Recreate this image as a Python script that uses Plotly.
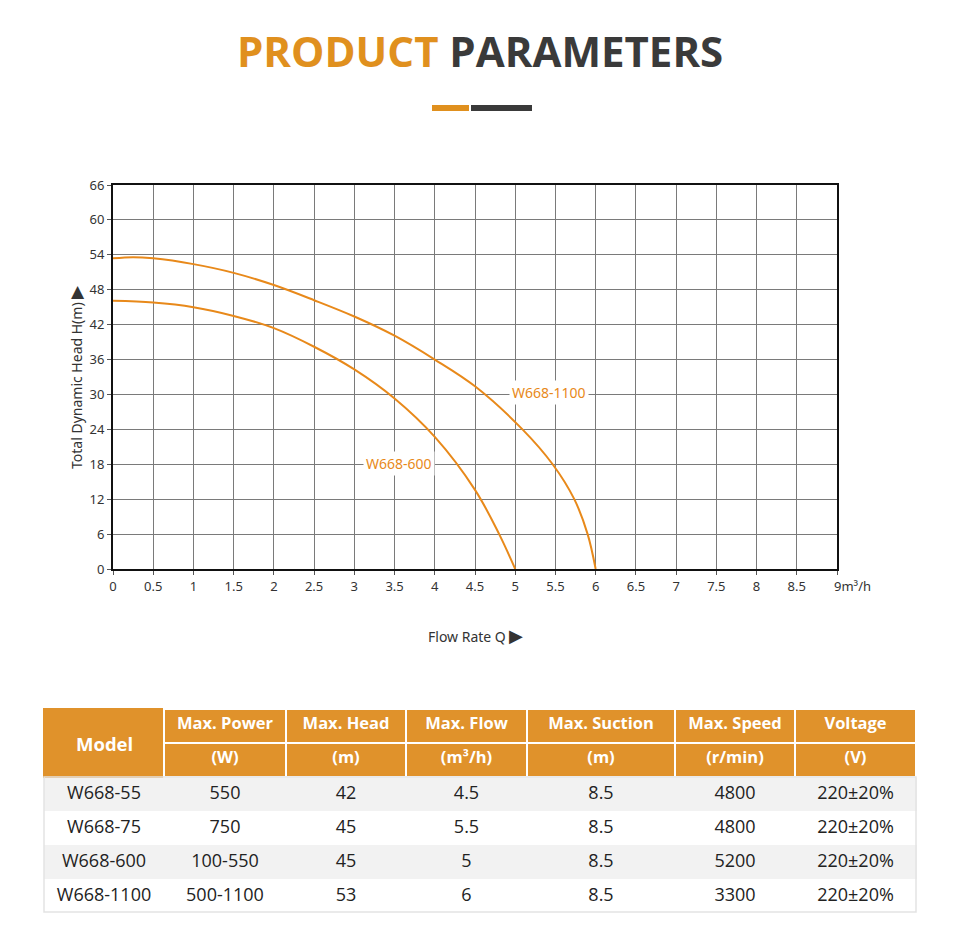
import plotly.graph_objects as go

# pump curves: flow (m3/h) vs total dynamic head (m)
q_1100 = [0, 0.25, 0.5, 1, 1.5, 2, 2.5, 3, 3.5, 4, 4.5, 5.09, 5.465, 5.734, 5.9, 6]
h_1100 = [53.4, 53.6, 53.4, 52.4, 50.9, 48.8, 46.2, 43.4, 40.1, 36.0, 31.4, 24, 18, 12, 6, 0]

q_600 = [0, 0.5, 1, 1.5, 2, 2.5, 3, 3.5, 4, 4.5, 4.8, 5]
h_600 = [46.1, 45.8, 45.0, 43.5, 41.4, 38.2, 34.3, 29.3, 22.7, 13.6, 6, 0]

x_ticks = [0, 0.5, 1, 1.5, 2, 2.5, 3, 3.5, 4, 4.5, 5, 5.5, 6, 6.5, 7, 7.5, 8, 8.5]
x_ticktext = ["0", "0.5", "1", "1.5", "2", "2.5", "3", "3.5", "4", "4.5", "5", "5.5",
              "6", "6.5", "7", "7.5", "8", "8.5"]
x_last_tick = 9
x_last_label = "9m³/h"
y_ticks = [0, 6, 12, 18, 24, 30, 36, 42, 48, 54, 60, 66]

# parameter table
models = ["W668-55", "W668-75", "W668-600", "W668-1100"]
max_power = ["550", "750", "100-550", "500-1100"]
max_head = ["42", "45", "45", "53"]
max_flow = ["4.5", "5.5", "5", "6"]
max_suction = ["8.5", "8.5", "8.5", "8.5"]
max_speed = ["4800", "4800", "5200", "3300"]
voltage = ["220±20%", "220±20%", "220±20%", "220±20%"]

head_top = ["", "Max. Power", "Max. Head", "Max. Flow", "Max. Suction", "Max. Speed", "Voltage"]
head_unit = ["", "(W)", "(m)", "(m³/h)", "(m)", "(r/min)", "(V)"]

ORANGE = "#E8891A"
HEAD_FILL = "#E0922B"
DARK = "#3A3A3A"

W, H = 960, 948
OFF = 8  # page offset seen in the screenshot
px_x = lambda p: (p - OFF) / W
px_y = lambda p: 1 - (p - OFF) / H

fig = go.Figure()

fig.add_trace(go.Scatter(x=q_1100, y=h_1100, mode="lines", line=dict(color=ORANGE, width=2, shape="spline", smoothing=1),
                         name="W668-1100", showlegend=False))
fig.add_trace(go.Scatter(x=q_600, y=h_600, mode="lines", line=dict(color=ORANGE, width=2, shape="spline", smoothing=1),
                         name="W668-600", showlegend=False))

row_fill = ["#F2F2F2", "#FFFFFF", "#F2F2F2", "#FFFFFF"]
head_line = [[HEAD_FILL, HEAD_FILL]] + [["#FFFFFF", "#FFFFFF"]] * 6

fig.add_trace(go.Table(
    domain=dict(x=[px_x(44), px_x(916)], y=[px_y(913), px_y(709)]),
    columnwidth=[120, 122, 120, 121, 148, 120, 121],
    header=dict(
        values=[[a, b] for a, b in zip(head_top, head_unit)],
        fill_color=HEAD_FILL,
        line=dict(color=head_line, width=1.5),
        font=dict(family="Open Sans", size=16.5, color="white", weight="bold"),
        align="center",
        height=34,
    ),
    cells=dict(
        values=[models, max_power, max_head, max_flow, max_suction, max_speed, voltage],
        fill_color=[row_fill] * 7,
        line=dict(color=[row_fill] * 7, width=1),
        font=dict(family="Open Sans", size=18, color="#222222"),
        align="center",
        height=34,
    ),
))

fig.update_layout(
    width=W, height=H,
    margin=dict(l=0, r=0, t=0, b=0, autoexpand=False),
    paper_bgcolor="white",
    plot_bgcolor="white",
    font=dict(family="Noto Sans", color="#333333", size=13),
    xaxis=dict(
        domain=[px_x(113), px_x(837)], range=[0, 9], automargin=False,
        tickvals=x_ticks + [x_last_tick], ticktext=x_ticktext + [""], tickangle=0,
        showgrid=True, gridcolor="#7A7A7A", gridwidth=1,
        showline=True, linecolor="#111111", linewidth=2, mirror=True,
        ticks="outside", ticklen=4, tickcolor="#555555",
        zeroline=False,
        tickfont=dict(size=13, color="#333333"),
    ),
    yaxis=dict(
        domain=[px_y(569), px_y(185)], range=[0, 66], automargin=False,
        tickvals=y_ticks,
        showgrid=True, gridcolor="#7A7A7A", gridwidth=1,
        showline=True, linecolor="#111111", linewidth=2, mirror=True,
        ticks="outside", ticklen=4, tickcolor="#555555",
        zeroline=False,
        tickfont=dict(size=13, color="#333333"),
    ),
)

# last x tick label with its unit, starting at the tick
fig.add_annotation(x=x_last_tick, y=0, text=x_last_label, showarrow=False,
                   xanchor="left", yanchor="middle", xshift=-5, yshift=-17,
                   font=dict(family="Noto Sans", size=13, color="#333333"))

# axis titles
fig.add_annotation(xref="paper", yref="paper", x=px_x(75), y=px_y(377),
                   text="Total Dynamic Head H(m) <span style='font-size:17px'>▶</span>",
                   textangle=-90, showarrow=False, xanchor="center", yanchor="middle",
                   font=dict(family="Noto Sans", size=14, color="#333333"))
fig.add_annotation(xref="paper", yref="paper", x=px_x(475), y=px_y(635),
                   text="Flow Rate Q <span style='font-size:18px'>▶</span>",
                   showarrow=False, xanchor="center", yanchor="middle",
                   font=dict(family="Noto Sans", size=14, color="#333333"))

# curve labels
fig.add_annotation(x=5.42, y=30.3, text="W668-1100", showarrow=False,
                   font=dict(family="Noto Sans", size=14, color=ORANGE), bgcolor="white", borderpad=2)
fig.add_annotation(x=3.56, y=18.2, text="W668-600", showarrow=False,
                   font=dict(family="Noto Sans", size=14, color=ORANGE), bgcolor="white", borderpad=2)

# page title and accent bars
fig.add_annotation(xref="paper", yref="paper", x=0.5 - OFF / W, y=px_y(50), xanchor="center", yanchor="middle",
                   text="<b><span style='color:#E0901E'>PRODUCT</span> PARAMETERS</b>", showarrow=False,
                   font=dict(family="Open Sans", size=42, color=DARK))
fig.add_shape(type="rect", xref="paper", yref="paper", x0=px_x(432), x1=px_x(469), y0=px_y(111), y1=px_y(105),
              fillcolor="#E0901E", line_width=0)
fig.add_shape(type="rect", xref="paper", yref="paper", x0=px_x(471), x1=px_x(532), y0=px_y(111), y1=px_y(105),
              fillcolor=DARK, line_width=0)

# merged "Model" header cell label and table outline
fig.add_annotation(xref="paper", yref="paper", x=px_x(104), y=px_y(743), xanchor="center", yanchor="middle",
                   text="<b>Model</b>", showarrow=False, font=dict(family="Open Sans", size=18.5, color="white"))
fig.add_shape(type="rect", xref="paper", yref="paper", x0=px_x(44), x1=px_x(916), y0=px_y(912), y1=px_y(777),
              line=dict(color="#E3E3E3", width=1.5), fillcolor="rgba(0,0,0,0)")

fig.write_html("out.html")
